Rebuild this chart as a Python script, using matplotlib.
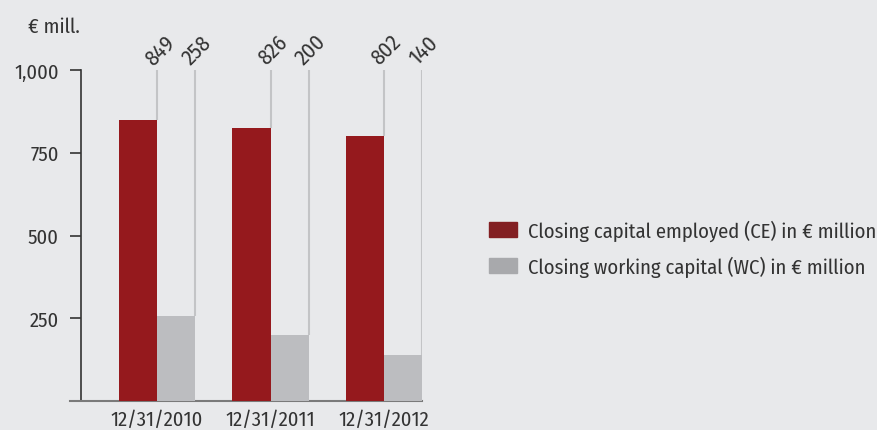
import numpy as np
import matplotlib
matplotlib.use('Agg')
import matplotlib.pyplot as plt
from matplotlib.patches import Patch
from matplotlib import font_manager as fm

# narrow font like the original, fall back to a listed font if missing
available = {f.name for f in fm.fontManager.ttflist}
fs = 14.8
mainFont = 'Roboto'
for name in ['Fira Sans Condensed', 'Roboto Condensed', 'Asap Condensed']:
    if name in available:
        mainFont = name
        break
if mainFont == 'Roboto':
    fs = 12
plt.rcParams['font.family'] = [mainFont, 'DejaVu Sans']
plt.rcParams['text.color'] = '#333333'

# data
dates = ['12/31/2010', '12/31/2011', '12/31/2012']
capitalEmployed = [849, 826, 802]
workingCapital = [258, 200, 140]
yTicks = [250, 500, 750, 1000]
yTickLabels = ['250', '500', '750', '1,000']

bg = '#e8e9eb'
ceColor = '#95191d'
wcColor = '#bcbdc0'
lineColor = '#c3c4c6'

fig = plt.figure(figsize=(8.77, 4.31), dpi=100, facecolor=bg)
ax = fig.add_axes([70 / 877, 29 / 431, 352 / 877, 331 / 431])
ax.set_facecolor(bg)

barWidth = 0.335
x = np.arange(len(dates))

ax.bar(x - barWidth / 2, capitalEmployed, width=barWidth, color=ceColor, zorder=3)
ax.bar(x + barWidth / 2, workingCapital, width=barWidth, color=wcColor, zorder=3)

# thin leader lines up to the value labels
ax.vlines(x, capitalEmployed, 1000, color=lineColor, lw=1.5, zorder=2)
ax.vlines(x + barWidth, workingCapital, 1000, color=lineColor, lw=1.5, zorder=2)

for i in range(len(dates)):
    ax.annotate(str(capitalEmployed[i]), (x[i], 1000), xytext=(-1, 1), textcoords='offset points',
                rotation=45, rotation_mode='anchor', ha='left', va='bottom', fontsize=fs + 1)
    ax.annotate(str(workingCapital[i]), (x[i] + barWidth, 1000), xytext=(-1, 1), textcoords='offset points',
                rotation=45, rotation_mode='anchor', ha='left', va='bottom', fontsize=fs + 1)

ax.set_xlim(-0.767, 2.335)
ax.set_ylim(0, 1000)

ax.spines['top'].set_visible(False)
ax.spines['right'].set_visible(False)
ax.spines['left'].set_position(('data', -0.67))
ax.spines['left'].set_color('#333333')
ax.spines['left'].set_linewidth(1.2)
ax.spines['bottom'].set_color('#7a7a7a')
ax.spines['bottom'].set_linewidth(1.5)

ax.set_yticks(yTicks)
ax.set_yticklabels(yTickLabels, fontsize=fs)
ax.tick_params(axis='y', length=8, width=1.2, color='#333333', pad=8, labelcolor='#333333')
ax.set_xticks(x)
ax.set_xticklabels(dates, fontsize=fs)
ax.tick_params(axis='x', length=0, pad=6, labelcolor='#333333')

fig.text(28 / 877, 1 - 33 / 431, '€ mill.', fontsize=fs, va='baseline', ha='left')

handles = [Patch(color='#831f22', label='Closing capital employed (CE) in € million'),
           Patch(color='#a8a9ac', label='Closing working capital (WC) in € million')]
fig.legend(handles=handles, loc='center left', bbox_to_anchor=(489 / 877, 1 - 249 / 431),
           frameon=False, fontsize=fs, handlelength=1.35, handleheight=0.8,
           handletextpad=0.55, labelspacing=0.7, borderpad=0, borderaxespad=0,
           labelcolor='#333333')

plt.savefig('out.png', dpi=100, facecolor=bg)
